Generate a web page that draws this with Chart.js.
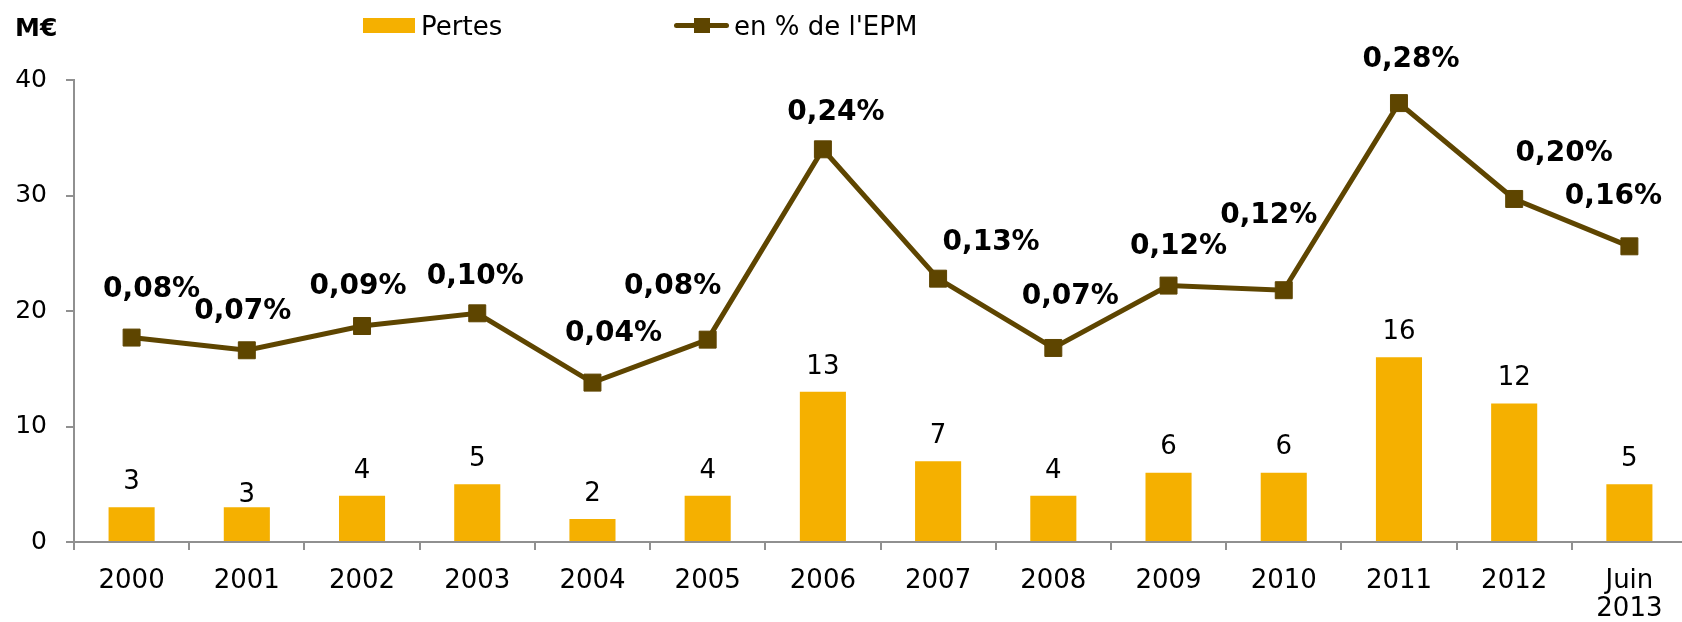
<!DOCTYPE html>
<html>
<head>
<meta charset="utf-8">
<script src="https://cdn.jsdelivr.net/npm/chart.js@4.4.1/dist/chart.umd.min.js"></script>
<style>
  html, body { margin: 0; padding: 0; background: #fff; overflow: hidden; }
  #wrap { position: relative; width: 1700px; height: 622px; font-family: "DejaVu Sans", sans-serif; }
  #chart { position: absolute; left: 0; top: 0; }
  .unit { position: absolute; left: 15px; top: 14px; font-size: 25px; font-weight: bold; line-height: 28px; color: #000; }
  .leg { position: absolute; font-size: 26px; line-height: 30px; color: #000; white-space: nowrap; }
  .box { position: absolute; left: 363px; top: 18px; width: 52px; height: 15px; background: #F5B000; }
  .lline { position: absolute; left: 674px; top: 23px; width: 55px; height: 5px; border-radius: 3px; background: #5E4500; }
  .lsq { position: absolute; left: 694px; top: 18px; width: 16px; height: 15px; background: #5E4500; }
</style>
</head>
<body>
<div id="wrap">
  <canvas id="chart" width="1700" height="622"></canvas>
  <div class="unit">M€</div>
  <div class="box"></div>
  <div class="leg" style="left:421px; top:11px;">Pertes</div>
  <div class="lline"></div>
  <div class="lsq"></div>
  <div class="leg" style="left:734px; top:11px;">en % de l'EPM</div>
</div>
<script>
// =========================
// DONNÉES
// =========================
const categories = ["2000", "2001", "2002", "2003", "2004", "2005", "2006",
    "2007", "2008", "2009", "2010", "2011", "2012", ["Juin", "2013"]];

// Pertes en M€
const pertes = [3, 3, 4, 5, 2, 4, 13, 7, 4, 6, 6, 16, 12, 5];

// Pertes en % de l'EPM
const pctEPM = [0.077, 0.066, 0.087, 0.098, 0.038, 0.0752, 0.240,
    0.128, 0.068, 0.122, 0.118, 0.280, 0.197, 0.156];

const yTicks = [0, 10, 20, 30, 40];

// décalages des étiquettes (style)
const decalPct = [[20, -48], [-4, -39], [-4, -39], [-2, -37], [21, -49], [-35, -53], [13, -37],
    [53, -36], [17, -51], [10, -39], [-15, -74], [12, -43], [50, -45], [-16, -50]];
const decalBar = [0, 13, 0, 0, 0, 0, 0, 0, 0, 0, 0, 0, 0, 0];

const OR = "#F5B000";
const BRUN = "#5E4500";
const AXE = "#909090";

Chart.defaults.font.family = "'DejaVu Sans', sans-serif";
Chart.defaults.color = "#000";

// =========================
// ÉTIQUETTES
// =========================
const etiquettes = {
    id: "etiquettes",
    afterDatasetsDraw(chart) {
        const ctx = chart.ctx;
        ctx.save();
        ctx.textAlign = "center";
        ctx.textBaseline = "middle";
        ctx.fillStyle = "#000";

        const barMeta = chart.getDatasetMeta(1);
        ctx.font = "26px 'DejaVu Sans'";
        barMeta.data.forEach((el, i) => {
            ctx.fillText(String(pertes[i]), el.x, el.y - 25 + decalBar[i]);
        });

        const lineMeta = chart.getDatasetMeta(0);
        ctx.font = "bold 28px 'DejaVu Sans'";
        lineMeta.data.forEach((el, i) => {
            const txt = pctEPM[i].toFixed(2).replace(".", ",") + "%";
            ctx.fillText(txt, el.x + decalPct[i][0], el.y + decalPct[i][1]);
        });
        ctx.restore();
    }
};

new Chart(document.getElementById("chart"), {
    data: {
        labels: categories,
        datasets: [{
            type: "line",
            label: "en % de l'EPM",
            data: pctEPM,
            yAxisID: "y2",
            order: 0,
            borderColor: BRUN,
            borderWidth: 5,
            tension: 0,
            pointStyle: "rect",
            pointRadius: 12,
            pointBackgroundColor: BRUN,
            pointBorderColor: BRUN,
            pointBorderWidth: 1
        }, {
            type: "bar",
            label: "Pertes",
            data: pertes,
            yAxisID: "y",
            order: 1,
            backgroundColor: OR,
            categoryPercentage: 0.4,
            barPercentage: 1
        }]
    },
    options: {
        responsive: false,
        animation: false,
        events: [],
        layout: { padding: { top: 80, left: 0, right: 6, bottom: 0 } },
        plugins: {
            legend: { display: false },
            tooltip: { enabled: false }
        },
        scales: {
            x: {
                offset: true,
                grid: {
                    offset: true,
                    drawOnChartArea: false,
                    drawTicks: true,
                    tickLength: 8,
                    color: AXE,
                    lineWidth: 2
                },
                border: { display: true, color: AXE, width: 2 },
                ticks: {
                    font: { size: 26, lineHeight: 1.08 },
                    color: "#000",
                    padding: 17,
                    maxRotation: 0,
                    autoSkip: false
                },
                afterFit(s) { s.height = 80; }
            },
            y: {
                min: 0,
                max: 40,
                afterBuildTicks(s) { s.ticks = yTicks.map(v => ({ value: v })); },
                grid: {
                    drawOnChartArea: false,
                    drawTicks: true,
                    tickLength: 8,
                    color: AXE,
                    lineWidth: 2
                },
                border: { display: true, color: AXE, width: 2 },
                ticks: {
                    font: { size: 25 },
                    color: "#000",
                    padding: 19
                },
                afterFit(s) { s.width = 74; }
            },
            y2: {
                display: false,
                min: -0.1,
                max: 0.3
            }
        }
    },
    plugins: [etiquettes]
});
</script>
</body>
</html>
